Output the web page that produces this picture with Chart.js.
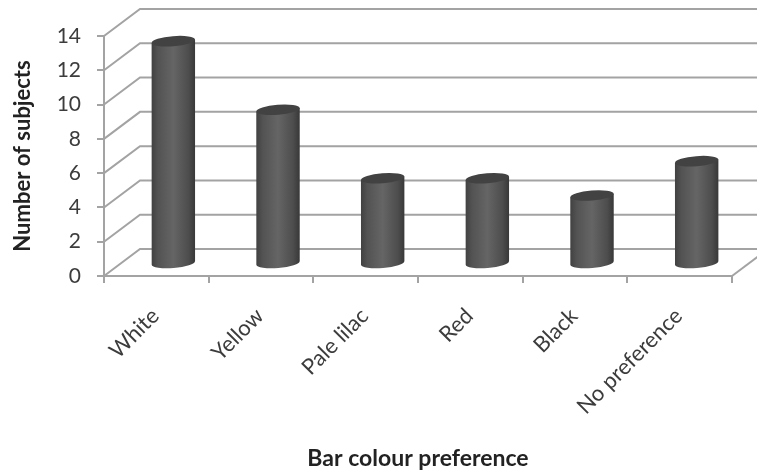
<!DOCTYPE html>
<html>
<head>
<meta charset="utf-8">
<style>
  html, body { margin: 0; padding: 0; background: #fff; }
  canvas { display: block; filter: blur(0.5px); }
</style>
<script src="https://cdn.jsdelivr.net/npm/chart.js@4"></script>
</head>
<body>
<canvas id="barChart" width="757" height="470"></canvas>
<script>
const categories = ["White", "Yellow", "Pale lilac", "Red", "Black", "No preference"];
const subjects = [13, 9, 5, 5, 4, 6];

const axisColor = "#a3a3a3";
const textColor = "#3c3c3c";

// fake 3D: depth of the back wall, and where the bars stand inside it
const wallX = 36;
const wallY = 27;
const barShiftX = 17;
const barShiftY = -12;

const wall3d = {
  id: "wall3d",
  beforeDatasetsDraw(chart) {
    const { ctx, chartArea, scales } = chart;
    ctx.save();
    ctx.strokeStyle = axisColor;
    ctx.lineWidth = 2;

    // back wall gridlines, one per tick
    scales.y.ticks.forEach((t) => {
      const py = scales.y.getPixelForValue(t.value);
      ctx.beginPath();
      ctx.moveTo(chartArea.left, py);
      ctx.lineTo(chartArea.left + wallX, py - wallY);
      ctx.lineTo(chart.width, py - wallY);
      ctx.stroke();
    });

    // right edge of the floor
    const floor = scales.y.getPixelForValue(0);
    ctx.beginPath();
    ctx.moveTo(chartArea.right, floor);
    ctx.lineTo(chartArea.right + wallX, floor - wallY);
    ctx.stroke();

    // cylinders, placed from the bar elements
    chart.getDatasetMeta(0).data.forEach((bar) => {
      const x = bar.x + barShiftX;
      const top = bar.y + barShiftY;
      const base = bar.base + barShiftY;
      const rx = bar.width / 2;
      const tilt = -0.08;
      const drop = rx * Math.sin(-tilt);

      const grad = ctx.createLinearGradient(x - rx, 0, x + rx, 0);
      grad.addColorStop(0, "#414141");
      grad.addColorStop(0.15, "#535353");
      grad.addColorStop(0.5, "#656565");
      grad.addColorStop(0.85, "#4d4d4d");
      grad.addColorStop(1, "#383838");

      ctx.fillStyle = grad;
      ctx.beginPath();
      ctx.moveTo(x - rx, top + drop);
      ctx.lineTo(x + rx, top - drop);
      ctx.lineTo(x + rx, base - drop);
      ctx.ellipse(x, base, rx, 5, tilt, 0, Math.PI);
      ctx.closePath();
      ctx.fill();

      ctx.fillStyle = "#424242";
      ctx.beginPath();
      ctx.ellipse(x, top, rx, 5, tilt, 0, Math.PI * 2);
      ctx.fill();
    });
    ctx.restore();
    return false; // cylinders replace the flat bars
  },
};

new Chart(document.getElementById("barChart").getContext("2d"), {
  type: "bar",
  data: {
    labels: categories,
    datasets: [
      {
        label: "Number of subjects",
        data: subjects,
        backgroundColor: "#555555",
        barPercentage: 0.415,
        categoryPercentage: 1,
      },
    ],
  },
  options: {
    responsive: false,
    animation: false,
    layout: { padding: { top: 36, right: 25 } },
    plugins: { legend: { display: false }, tooltip: { enabled: false } },
    scales: {
      x: {
        afterFit: (scale) => { scale.height = 194; },
        grid: { drawOnChartArea: false, color: axisColor, lineWidth: 2, tickLength: 7 },
        border: { color: axisColor, width: 2 },
        ticks: {
          color: textColor,
          font: { family: "Lato", size: 22 },
          minRotation: 45,
          maxRotation: 45,
          labelOffset: -1,
          padding: 20,
        },
        title: {
          display: true,
          text: "Bar colour preference",
          color: "#222222",
          font: { family: "Lato", size: 23, weight: "bold", lineHeight: 1 },
          padding: { top: 0, bottom: 0 },
        },
      },
      y: {
        min: 0,
        max: 14,
        afterFit: (scale) => { scale.width = 104; },
        grid: { drawOnChartArea: false, color: axisColor, lineWidth: 2, tickLength: 7 },
        border: { color: axisColor, width: 2 },
        ticks: {
          stepSize: 2,
          color: textColor,
          font: { family: "Lato", size: 21 },
          padding: 16,
        },
        title: {
          display: true,
          text: "Number of subjects",
          color: "#222222",
          font: { family: "Lato", size: 22, weight: "bold", lineHeight: 1 },
          padding: { top: 12, bottom: 0 },
        },
      },
    },
  },
  plugins: [wall3d],
});
</script>
</body>
</html>
